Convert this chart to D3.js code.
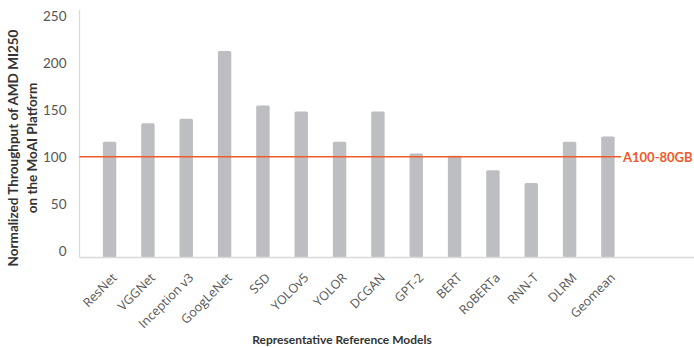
<!DOCTYPE html>
<html>
<head>
<meta charset="utf-8">
<script src="https://cdn.jsdelivr.net/npm/d3@7"></script>
<style>
  body { margin: 0; background: #fff; }
  svg { font-family: Lato, "Open Sans", sans-serif; }
</style>
</head>
<body>
<div id="chart"></div>
<script>
// data
const models = ["ResNet", "VGGNet", "Inception v3", "GoogLeNet", "SSD", "YOLOv5", "YOLOR",
  "DCGAN", "GPT-2", "BERT", "RoBERTa", "RNN-T", "DLRM", "Geomean"];
const throughput = [116, 135.5, 140.5, 212.5, 154.5, 148, 116, 148, 103.5, 101, 85.5, 72, 116, 121.5];
const yTicks = [0, 50, 100, 150, 200, 250];
const refValue = 100;
const refLabel = "A100-80GB";

const width = 694, height = 347;
const axisX = 79.5, baseY = 257.5;

const svg = d3.select("#chart").append("svg")
  .attr("width", width)
  .attr("height", height);

const x = d3.scaleBand()
  .domain(models)
  .range([axisX, 638])
  .paddingInner(0.65)
  .paddingOuter(0.61);

const y = d3.scaleLinear().domain([0, 250]).range([250.7, 15.7]);

// bars
svg.append("g")
  .selectAll("rect")
  .data(models)
  .enter()
  .append("rect")
  .attr("x", d => x(d))
  .attr("y", (d, i) => y(throughput[i]))
  .attr("width", x.bandwidth())
  .attr("height", (d, i) => baseY - y(throughput[i]))
  .attr("rx", 1.5)
  .style("fill", "#bdbec2");

// axis lines
svg.append("line")
  .attr("x1", axisX).attr("x2", axisX)
  .attr("y1", 10).attr("y2", baseY)
  .style("stroke", "#d9d9d9").style("stroke-width", 1.3);
svg.append("line")
  .attr("x1", axisX).attr("x2", width)
  .attr("y1", baseY).attr("y2", baseY)
  .style("stroke", "#d9d9d9").style("stroke-width", 1.3);

// y tick labels
const yAxis = d3.axisLeft(y).tickValues(yTicks).tickSize(0).tickPadding(0);
const gy = svg.append("g")
  .attr("transform", `translate(${axisX - 13},0)`)
  .call(yAxis);
gy.select(".domain").remove();
gy.selectAll("text")
  .attr("font-family", "Lato, sans-serif")
  .attr("font-size", "13.5px")
  .style("fill", "#555");

// x tick labels
svg.append("g")
  .selectAll("text")
  .data(models)
  .enter()
  .append("text")
  .attr("transform", d => `translate(${x(d) + x.bandwidth() / 2 + 8},${baseY + 21}) rotate(-45)`)
  .style("text-anchor", "end")
  .attr("font-family", "'Open Sans', sans-serif")
  .attr("font-size", "12.5px")
  .style("fill", "#555")
  .text(d => d);

// reference line
svg.append("line")
  .attr("x1", axisX).attr("x2", 621)
  .attr("y1", y(refValue)).attr("y2", y(refValue))
  .style("stroke", "#f05a28").style("stroke-width", 1.5);
svg.append("text")
  .attr("x", 623)
  .attr("y", y(refValue) + 5)
  .attr("font-size", "13px")
  .attr("font-weight", "bold")
  .style("fill", "#f05a28")
  .text(refLabel);

// y title
const yTitle = svg.append("text")
  .attr("transform", "translate(0,148) rotate(-90)")
  .style("text-anchor", "middle")
  .attr("font-size", "13.5px")
  .attr("font-weight", "bold")
  .style("fill", "#333");
yTitle.append("tspan").attr("x", 0).attr("y", 18).text("Normalized Throughput of AMD MI250");
yTitle.append("tspan").attr("x", 0).attr("y", 36.5).text("on the MoAI Platform");

// x title
svg.append("text")
  .attr("x", 342)
  .attr("y", 344)
  .style("text-anchor", "middle")
  .attr("font-size", "12px")
  .attr("font-weight", "bold")
  .style("fill", "#333")
  .text("Representative Reference Models");
</script>
</body>
</html>
